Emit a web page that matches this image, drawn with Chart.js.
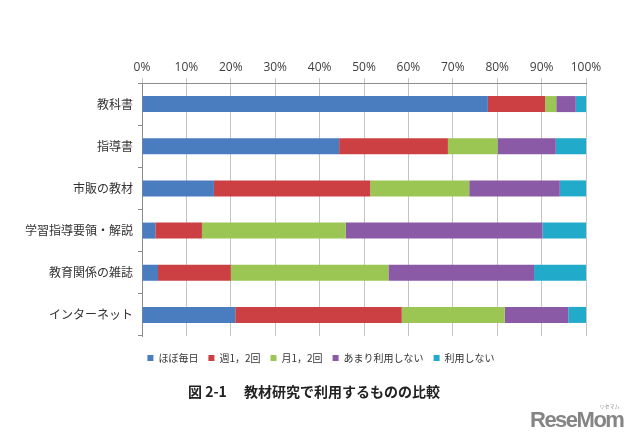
<!DOCTYPE html>
<html>
<head>
<meta charset="utf-8">
<script src="https://cdn.jsdelivr.net/npm/chart.js@4"></script>
<style>
  body { margin: 0; background: #fff; }
  #wrap { position: relative; width: 640px; height: 445px; }
  #title {
    position: absolute; left: 0; width: 628px; top: 381px;
    text-align: center; font: bold 14px "Noto Sans CJK JP"; color: #222;
  }
  #logo {
    position: absolute; left: 530px; top: 407px; line-height: 26px;
    font: bold 22px "Liberation Sans"; color: #858585; letter-spacing: -1.5px;
  }
  #logo span {
    position: absolute; right: 4px; top: -5px; line-height: 8px;
    font: 5px "Noto Sans CJK JP"; letter-spacing: 0; color: #888;
  }
</style>
</head>
<body>
<div id="wrap">
  <canvas id="chart-1" width="640" height="445"></canvas>
  <div id="title">図 2-1　 教材研究で利用するものの比較</div>
  <div id="logo">ReseMom<span>リセマム</span></div>
</div>
<script>
const categories = ['教科書', '指導書', '市販の教材', '学習指導要領・解説', '教育関係の雑誌', 'インターネット'];
const seriesNames = ['ほぼ毎日', '週1，2回', '月1，2回', 'あまり利用しない', '利用しない'];
const everyDay = [77.9, 44.4, 16.2, 3.0, 3.6, 21.0];
const weekly = [12.9, 24.5, 35.2, 10.5, 16.4, 37.5];
const monthly = [2.5, 11.2, 22.3, 32.4, 35.5, 23.2];
const rarely = [4.4, 13.1, 20.4, 44.3, 32.8, 14.3];
const never = [2.3, 6.8, 5.9, 9.8, 11.7, 4.0];
const xTicks = [0, 10, 20, 30, 40, 50, 60, 70, 80, 90, 100];

const colors = ['#4a7cc0', '#cc4044', '#9bc653', '#8a5aa6', '#22aacb'];
const values = [everyDay, weekly, monthly, rarely, never];

const ctx = document.getElementById('chart-1').getContext('2d');

// move the legend a little right and down, like the original
const legendShift = {
    id: 'legendShift',
    afterLayout(chart) {
        const lg = chart.legend;
        lg.left += 28; lg.right += 28;
        lg.top += 7; lg.bottom += 7;
    }
};

var data = {
    labels: categories,
    datasets: seriesNames.map((name, i) => ({
        label: name,
        data: values[i],
        backgroundColor: colors[i],
        borderWidth: 0,
        barPercentage: 0.38,
        categoryPercentage: 1
    }))
};

var myBarChart = new Chart(ctx, {
    type: 'bar',
    data: data,
    plugins: [legendShift],
    options: {
        indexAxis: 'y',
        responsive: false,
        animation: false,
        layout: {
            padding: { left: 0, right: 54, top: 55, bottom: 79 }
        },
        plugins: {
            legend: {
                position: 'bottom',
                labels: {
                    boxWidth: 6,
                    boxHeight: 6,
                    padding: 10,
                    color: '#333',
                    font: { family: 'Noto Sans CJK JP', size: 10 }
                }
            },
            title: { display: false },
            tooltip: { enabled: false }
        },
        scales: {
            x: {
                position: 'top',
                stacked: true,
                min: 0,
                max: 100,
                afterBuildTicks: axis => { axis.ticks = xTicks.map(v => ({ value: v })); },
                afterFit: axis => { axis.height = 28; },
                ticks: {
                    callback: v => v + '%',
                    color: '#404040',
                    padding: 3,
                    font: { family: 'Open Sans', size: 12 }
                },
                grid: { color: '#c4c4c4', tickLength: 5 },
                border: { color: '#8c8c8c' }
            },
            y: {
                stacked: true,
                afterFit: axis => { axis.width = 142; },
                ticks: {
                    color: '#333',
                    padding: 5,
                    font: { family: 'Noto Sans CJK JP', size: 12 }
                },
                grid: { drawOnChartArea: false, offset: true, tickLength: 4, color: '#8c8c8c' },
                border: { color: '#8c8c8c' }
            }
        }
    }
});
</script>
</body>
</html>
